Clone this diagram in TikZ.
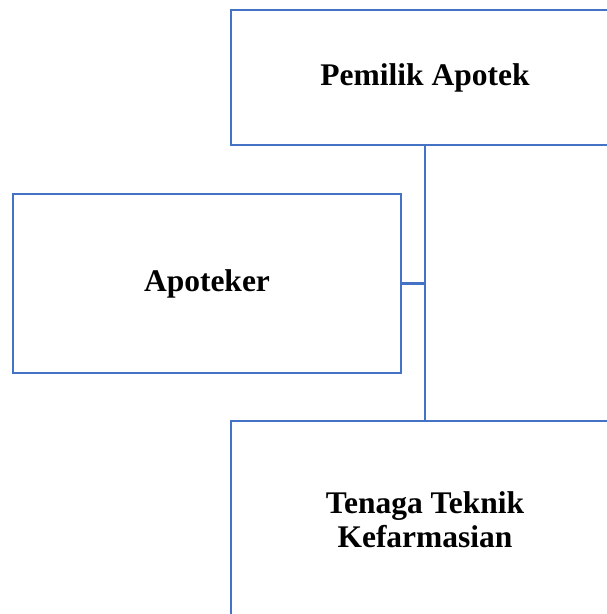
\documentclass[tikz,border=0pt]{standalone}
\usepackage{fontspec}
\setmainfont{Liberation Serif}
\definecolor{boxblue}{HTML}{4472C4}
\begin{document}
\begin{tikzpicture}[x=1pt,y=-1pt,
  orgbox/.style={draw=boxblue,line width=2.8pt,rectangle,inner sep=0pt,
    minimum width=388pt,align=center,
    font=\fontsize{31.5}{34}\selectfont\bfseries},
  link/.style={draw=boxblue,line width=2.8pt}]
\useasboundingbox (0,0) rectangle (607,614);
\clip (0,0) rectangle (607,614);
\node[orgbox,minimum height=135pt] (top) at (425,77.5) {\raisebox{-4pt}{Pemilik Apotek}};
\node[orgbox,minimum height=179pt] (apo) at (207,283.5) {\raisebox{-3pt}{Apoteker}};
\node[orgbox,minimum height=198pt] (bot) at (425,520) {Tenaga Teknik\\Kefarmasian};
\draw[link] (top.south) -- (bot.north);
\draw[link] (apo.east) -- (apo.east -| top.south);
\end{tikzpicture}
\end{document}
